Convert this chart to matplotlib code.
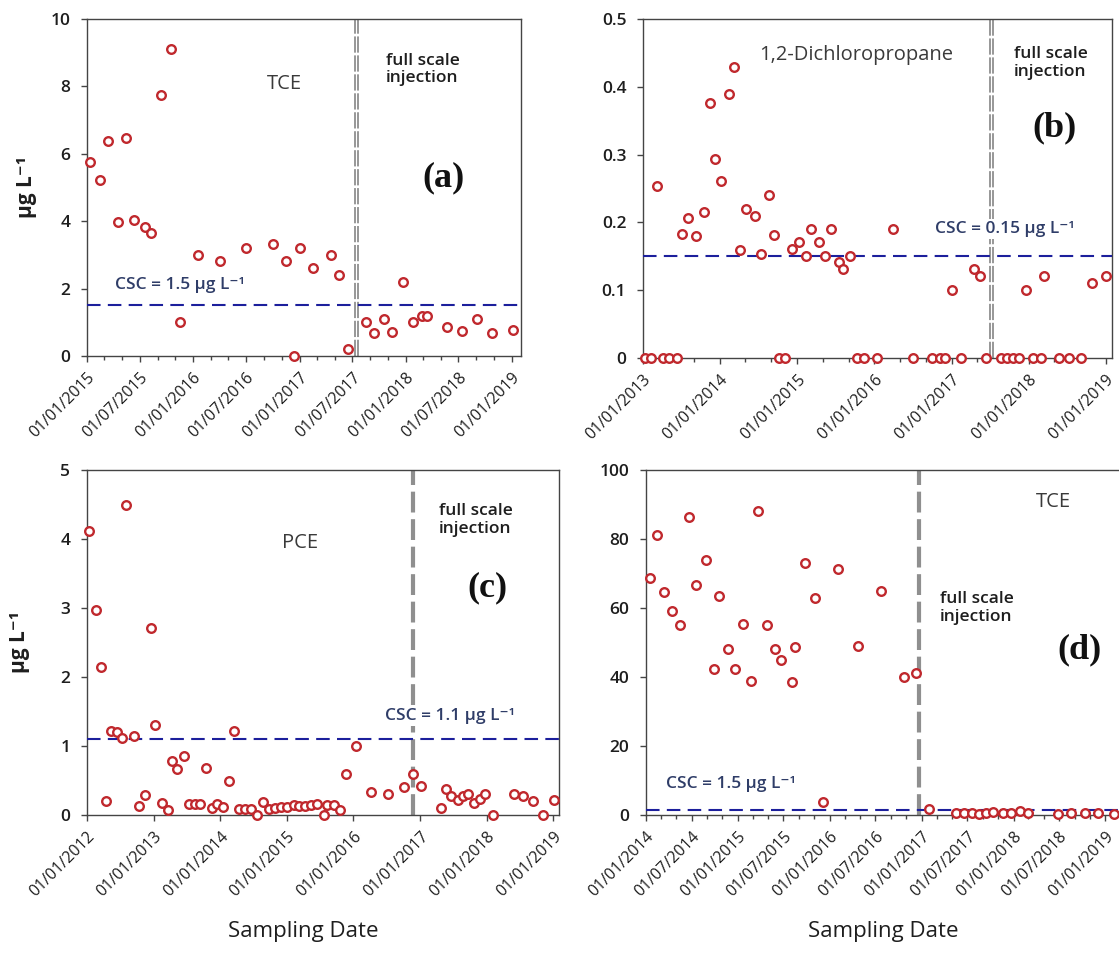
import matplotlib
matplotlib.use("Agg")
import matplotlib.pyplot as plt
import matplotlib.dates as mdates
import pandas as pd
from matplotlib.ticker import FuncFormatter

plt.rcParams['font.family'] = ['Open Sans', 'DejaVu Sans']

# ---- data ------------------------------------------------------------------
A_DATES = ["2015-01-12", "2015-02-13", "2015-03-13", "2015-04-16", "2015-05-15", "2015-06-11",
           "2015-07-21", "2015-08-08", "2015-09-11", "2015-10-16", "2015-11-18", "2016-01-17",
           "2016-04-01", "2016-07-02", "2016-10-01", "2016-11-15", "2016-12-14", "2017-01-03",
           "2017-02-15", "2017-04-20", "2017-05-18", "2017-06-15", "2017-08-18", "2017-09-14",
           "2017-10-18", "2017-11-16", "2017-12-21", "2018-01-24", "2018-02-26", "2018-03-14",
           "2018-05-23", "2018-07-12", "2018-09-02", "2018-10-24", "2019-01-03"]
A_VALUES = [5.76, 5.21, 6.37, 3.99, 6.48, 4.04, 3.83, 3.65, 7.73, 9.11, 1.0, 3.0,
            2.81, 3.21, 3.31, 2.81, 0.0, 3.21, 2.61, 3.0, 2.40, 0.2, 1.0, 0.68,
            1.10, 0.72, 2.20, 1.0, 1.2, 1.2, 0.87, 0.74, 1.10, 0.67, 0.76]

B_DATES = ["2013-01-09", "2013-02-10", "2013-03-08", "2013-04-06", "2013-05-06", "2013-06-09",
           "2013-07-06", "2013-08-01", "2013-09-07", "2013-10-18", "2013-11-15", "2013-12-07",
           "2014-01-07", "2014-02-12", "2014-03-08", "2014-04-06", "2014-05-05", "2014-06-14",
           "2014-07-13", "2014-08-19", "2014-09-13", "2014-10-07", "2014-11-06", "2014-12-07",
           "2015-01-10", "2015-02-10", "2015-03-09", "2015-04-12", "2015-05-11", "2015-06-10",
           "2015-07-17", "2015-08-05", "2015-09-08", "2015-10-10", "2015-11-13", "2016-01-12",
           "2016-03-28", "2016-06-30", "2016-09-29", "2016-11-08", "2016-12-02", "2017-01-01",
           "2017-02-13", "2017-04-16", "2017-05-15", "2017-06-11", "2017-08-22", "2017-09-19",
           "2017-10-19", "2017-11-16", "2017-12-20", "2018-01-20", "2018-02-28", "2018-03-13",
           "2018-05-23", "2018-07-12", "2018-09-04", "2018-10-25", "2019-01-01"]
B_VALUES = [0, 0, 0.253, 0, 0, 0, 0.183, 0.207, 0.180, 0.215, 0.376, 0.294,
            0.261, 0.390, 0.429, 0.159, 0.220, 0.210, 0.153, 0.240, 0.181, 0, 0, 0.161,
            0.171, 0.151, 0.190, 0.171, 0.151, 0.190, 0.141, 0.131, 0.151, 0, 0, 0,
            0.190, 0, 0, 0, 0, 0.101, 0, 0.131, 0.121, 0, 0, 0,
            0, 0, 0.101, 0, 0, 0.121, 0, 0, 0, 0.111, 0.121]

C_DATES = ["2012-01-12", "2012-02-18", "2012-03-18", "2012-04-13", "2012-05-12", "2012-06-12",
           "2012-07-13", "2012-08-01", "2012-09-13", "2012-10-10", "2012-11-14", "2012-12-15",
           "2013-01-10", "2013-02-14", "2013-03-18", "2013-04-13", "2013-05-10", "2013-06-16",
           "2013-07-13", "2013-08-15", "2013-09-13", "2013-10-16", "2013-11-16", "2013-12-15",
           "2014-01-17", "2014-02-15", "2014-03-16", "2014-04-14", "2014-05-15", "2014-06-17",
           "2014-07-19", "2014-08-23", "2014-09-25", "2014-10-26", "2014-11-28", "2015-01-03",
           "2015-02-07", "2015-03-11", "2015-04-13", "2015-05-14", "2015-06-14", "2015-07-23",
           "2015-08-07", "2015-09-15", "2015-10-20", "2015-11-20", "2016-01-17", "2016-04-06",
           "2016-07-06", "2016-10-04", "2016-11-20", "2017-01-07", "2017-04-25", "2017-05-22",
           "2017-06-21", "2017-07-26", "2017-08-24", "2017-09-18", "2017-10-25", "2017-11-23",
           "2017-12-24", "2018-02-03", "2018-05-28", "2018-07-19", "2018-09-10", "2018-11-03",
           "2019-01-06"]
C_VALUES = [4.12, 2.97, 2.15, 0.21, 1.22, 1.21, 1.12, 4.50, 1.14, 0.13, 0.29, 2.71,
            1.30, 0.18, 0.07, 0.78, 0.67, 0.85, 0.16, 0.16, 0.16, 0.68, 0.10, 0.16,
            0.12, 0.50, 1.22, 0.08, 0.08, 0.08, 0.0, 0.19, 0.09, 0.10, 0.11, 0.12,
            0.14, 0.13, 0.13, 0.14, 0.16, 0.0, 0.15, 0.15, 0.07, 0.60, 1.0, 0.34,
            0.31, 0.40, 0.60, 0.42, 0.10, 0.37, 0.27, 0.22, 0.27, 0.30, 0.17, 0.23,
            0.31, 0.0, 0.31, 0.27, 0.21, 0.0, 0.22]

D_DATES = ["2014-01-16", "2014-02-15", "2014-03-15", "2014-04-14", "2014-05-15", "2014-06-22",
           "2014-07-20", "2014-08-28", "2014-09-29", "2014-10-19", "2014-11-21", "2014-12-20",
           "2015-01-22", "2015-02-22", "2015-03-24", "2015-04-28", "2015-05-30", "2015-06-23",
           "2015-08-04", "2015-08-18", "2015-09-26", "2015-11-03", "2015-12-04", "2016-02-03",
           "2016-04-23", "2016-07-24", "2016-10-24", "2016-12-10", "2017-01-29", "2017-05-18",
           "2017-06-20", "2017-07-18", "2017-08-18", "2017-09-15", "2017-10-13", "2017-11-20",
           "2017-12-20", "2018-01-25", "2018-02-27", "2018-06-27", "2018-08-18", "2018-10-12",
           "2018-12-03", "2019-02-05"]
D_VALUES = [68.6, 81.1, 64.5, 59.2, 55.0, 86.3, 66.7, 74.0, 42.4, 63.6, 48.1, 42.2,
            55.4, 38.8, 88.1, 55.1, 48.1, 45.0, 38.6, 48.7, 73.0, 62.8, 3.9, 71.3,
            49.0, 65.0, 40.1, 41.1, 1.6, 0.5, 0.6, 0.5, 0.3, 0.6, 0.8, 0.5,
            0.5, 1.2, 0.6, 0.4, 0.5, 0.6, 0.5, 0.4]

W, H = 1119, 958
RED = "#c0282d"
NAVY_LINE = "#1c1f9c"
NAVY_TEXT = "#2f3d68"
GREY = "#8f8f8f"
TXT = "#1e1e1e"


def rect(left, top, right, bottom):
    return [left / W, 1 - bottom / H, (right - left) / W, (bottom - top) / H]


def setup(ax, dates, values, xlim, ylim, yticks, major, minor, csc):
    x = pd.to_datetime(dates)
    ax.plot(x, values, linestyle="none", marker="o", ms=6.2, mfc="white",
            mec=RED, mew=1.7, clip_on=False, zorder=4)
    ax.axhline(csc, color=NAVY_LINE, lw=1.5, dashes=(6.5, 3.5), zorder=3)
    ax.set_xlim(pd.Timestamp(xlim[0]), pd.Timestamp(xlim[1]))
    ax.set_ylim(*ylim)
    ax.set_yticks(yticks)
    ax.yaxis.set_major_formatter(FuncFormatter(lambda v, p: f"{v:g}"))
    ax.xaxis.set_major_locator(major)
    if minor is not None:
        ax.xaxis.set_minor_locator(minor)
    ax.xaxis.set_major_formatter(mdates.DateFormatter("%d/%m/%Y"))
    for lab in ax.get_xticklabels():
        lab.set_rotation(45)
        lab.set_ha("right")
        lab.set_rotation_mode("anchor")
    ax.tick_params(axis="x", which="both", direction="out", length=4, width=1,
                   color="#444444", labelsize=11.5, labelcolor=TXT, pad=6)
    ax.tick_params(axis="x", which="minor", length=3)
    ax.tick_params(axis="y", direction="out", length=4, width=1, color="#444444",
                   labelsize=12.5, labelcolor=TXT, pad=8)
    for lab in ax.get_yticklabels():
        lab.set_fontweight("semibold")
    for s in ax.spines.values():
        s.set_color("#444444")
        s.set_linewidth(1.0)


def csc_text(ax, x, y, label):
    ax.text(x, y, label, transform=ax.transAxes, color=NAVY_TEXT, fontsize=12.5,
            fontweight="semibold", va="center", ha="left", zorder=5,
            bbox=dict(facecolor="white", edgecolor="none", pad=1.5))


def injection_text(ax, x, y):
    ax.text(x, y, "full scale\ninjection", transform=ax.transAxes, color=TXT,
            fontsize=12.5, fontweight="semibold", va="center", ha="left",
            linespacing=1.15, zorder=5)


def species_text(ax, x, y, label):
    ax.text(x, y, label, transform=ax.transAxes, color="#3a3a3a", fontsize=14.5,
            va="center", ha="center", zorder=5)


def panel_letter(ax, x, y, label):
    ax.text(x, y, label, transform=ax.transAxes, fontsize=26, fontweight="bold",
            family=["Liberation Serif", "DejaVu Serif"], color="#111111",
            va="center", ha="center", zorder=5)


def double_line(ax, d1, d2):
    for d in (d1, d2):
        ax.axvline(pd.Timestamp(d), color=GREY, lw=1.3, dashes=(9, 1.5), zorder=2)


fig = plt.figure(figsize=(W / 100, H / 100), dpi=100)
ax_a = fig.add_axes(rect(87, 19, 521, 356))
ax_b = fig.add_axes(rect(643, 19, 1112, 358))
ax_c = fig.add_axes(rect(87, 470, 559, 815))
ax_d = fig.add_axes(rect(646, 470, 1125, 815))

# (a) TCE
setup(ax_a, A_DATES, A_VALUES, ("2015-01-01", "2019-02-01"), (0, 10), [0, 2, 4, 6, 8, 10],
      mdates.MonthLocator(bymonth=[1, 7]), mdates.MonthLocator(bymonth=[3, 5, 9, 11]), 1.5)
double_line(ax_a, "2017-07-09", "2017-07-21")
species_text(ax_a, 0.455, 0.808, "TCE")
injection_text(ax_a, 0.688, 0.85)
panel_letter(ax_a, 0.822, 0.53, "(a)")
csc_text(ax_a, 0.064, 0.211, "CSC = 1.5 μg L⁻¹")
ax_a.set_ylabel("μg L⁻¹", fontsize=15, fontweight="bold", color=TXT)
ax_a.yaxis.set_label_coords(-0.115, 0.5)

# (b) 1,2-Dichloropropane
setup(ax_b, B_DATES, B_VALUES, ("2013-01-01", "2019-01-30"), (0, 0.5),
      [0, 0.1, 0.2, 0.3, 0.4, 0.5],
      mdates.MonthLocator(bymonth=[1]), mdates.MonthLocator(bymonth=[5, 9]), 0.15)
double_line(ax_b, "2017-07-01", "2017-07-15")
species_text(ax_b, 0.455, 0.894, "1,2-Dichloropropane")
injection_text(ax_b, 0.791, 0.87)
panel_letter(ax_b, 0.877, 0.678, "(b)")
csc_text(ax_b, 0.622, 0.38, "CSC = 0.15 μg L⁻¹")

# (c) PCE
setup(ax_c, C_DATES, C_VALUES, ("2012-01-01", "2019-02-01"), (0, 5), [0, 1, 2, 3, 4, 5],
      mdates.MonthLocator(bymonth=[1]), None, 1.1)
ax_c.axvline(pd.Timestamp("2016-11-24"), color=GREY, lw=3, dashes=(5, 1.6), zorder=2)
species_text(ax_c, 0.451, 0.788, "PCE")
injection_text(ax_c, 0.745, 0.856)
panel_letter(ax_c, 0.849, 0.658, "(c)")
csc_text(ax_c, 0.632, 0.288, "CSC = 1.1 μg L⁻¹")
ax_c.set_ylabel("μg L⁻¹", fontsize=15, fontweight="bold", color=TXT)
ax_c.yaxis.set_label_coords(-0.12, 0.5)

# (d) TCE
setup(ax_d, D_DATES, D_VALUES, ("2014-01-01", "2019-03-20"), (0, 100),
      [0, 20, 40, 60, 80, 100],
      mdates.MonthLocator(bymonth=[1, 7]), mdates.MonthLocator(bymonth=[3, 5, 9, 11]), 1.5)
ax_d.axvline(pd.Timestamp("2016-12-20"), color=GREY, lw=3, dashes=(5, 1.6), zorder=2)
species_text(ax_d, 0.85, 0.908, "TCE")
injection_text(ax_d, 0.613, 0.60)
panel_letter(ax_d, 0.906, 0.48, "(d)")
csc_text(ax_d, 0.042, 0.09, "CSC = 1.5 μg L⁻¹")

fig.text(303 / W, 1 - 932 / H, "Sampling Date", fontsize=16, color=TXT, ha="center", va="center")
fig.text(883 / W, 1 - 932 / H, "Sampling Date", fontsize=16, color=TXT, ha="center", va="center")

fig.savefig("out.png", dpi=100)
